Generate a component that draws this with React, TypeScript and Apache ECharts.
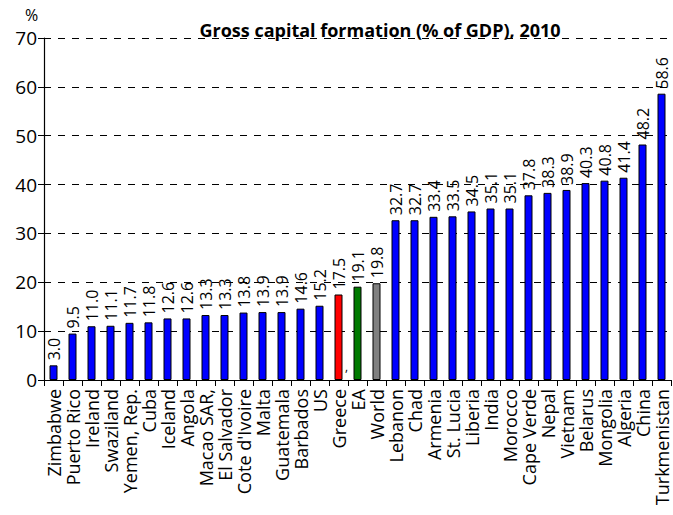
import React, { useEffect, useRef } from "react";
import * as echarts from "echarts";

const categories = [
  "Zimbabwe", "Puerto Rico", "Ireland", "Swaziland", "Yemen, Rep.", "Cuba", "Iceland", "Angola",
  "Macao SAR,", "El Salvador", "Cote d'Ivoire", "Malta", "Guatemala", "Barbados", "US", "Greece",
  "EA", "World", "Lebanon", "Chad", "Armenia", "St. Lucia", "Liberia", "India", "Morocco",
  "Cape Verde", "Nepal", "Vietnam", "Belarus", "Mongolia", "Algeria", "China", "Turkmenistan",
];
const values = [
  3.0, 9.5, 11.0, 11.1, 11.7, 11.8, 12.6, 12.6, 13.3, 13.3, 13.8, 13.9, 13.9, 14.6, 15.2, 17.5,
  19.1, 19.8, 32.7, 32.7, 33.4, 33.5, 34.5, 35.1, 35.1, 37.8, 38.3, 38.9, 40.3, 40.8, 41.4, 48.2, 58.6,
];
const specialColors: Record<string, string> = { Greece: "#ff0000", EA: "#007a00", World: "#808080" };
const defaultColor = "#0000ff";
const titleText = "Gross capital formation (% of GDP), 2010";
const FONT = "Open Sans";

export default function App() {
  const ref = useRef<HTMLDivElement>(null);
  useEffect(() => {
    if (!ref.current) return;
    const chart = echarts.init(ref.current, null, { renderer: "svg" });
    chart.setOption({
      animation: false,
      backgroundColor: "#fff",
      title: {
        text: titleText,
        left: 375,
        textAlign: "center",
        top: 16,
        textStyle: { fontFamily: FONT, fontWeight: "bold", fontSize: 18, color: "#000" },
      },
      graphic: [
        { type: "text", left: 25, top: 7, style: { text: "%", font: `16px ${FONT}`, fill: "#000" } },
        { type: "text", left: 345, top: 360, style: { text: ",", font: `12px ${FONT}`, fill: "#000" } },
      ],
      grid: { left: 44, right: 2, top: 38, bottom: 135 },
      xAxis: {
        type: "category",
        data: categories,
        axisLine: { lineStyle: { color: "#000", width: 1 } },
        axisTick: { show: true, length: 6, lineStyle: { color: "#000" } },
        axisLabel: {
          rotate: 90,
          interval: 0,
          fontFamily: FONT,
          fontSize: 18,
          color: "#000",
          margin: 9,
        },
      },
      yAxis: {
        type: "value",
        min: 0,
        max: 70,
        interval: 10,
        axisLine: { show: true, lineStyle: { color: "#000", width: 1.2 } },
        axisTick: { show: true, length: 6, inside: false, lineStyle: { color: "#000" } },
        axisLabel: { fontFamily: FONT, fontSize: 19, color: "#000", margin: 7, lineHeight: 19 },
        splitLine: { lineStyle: { color: "#000", type: [7, 7], width: 1 } },
      },
      series: [
        {
          type: "bar",
          barWidth: 8,
          data: categories.map((c, i) => ({
            value: values[i],
            itemStyle: { color: specialColors[c] || defaultColor, borderColor: "#000", borderWidth: 1 },
          })),
          label: {
            show: true,
            position: "top",
            rotate: 90,
            align: "left",
            verticalAlign: "middle",
            distance: 5,
            fontFamily: FONT,
            fontSize: 16,
            color: "#000",
            formatter: (p: any) => Number(p.value).toFixed(1),
          },
        },
      ],
    });
    return () => chart.dispose();
  }, []);
  return (
    <div
      ref={ref}
      style={{ position: "fixed", left: 0, top: 0, width: 673, height: 515 }}
    />
  );
}
